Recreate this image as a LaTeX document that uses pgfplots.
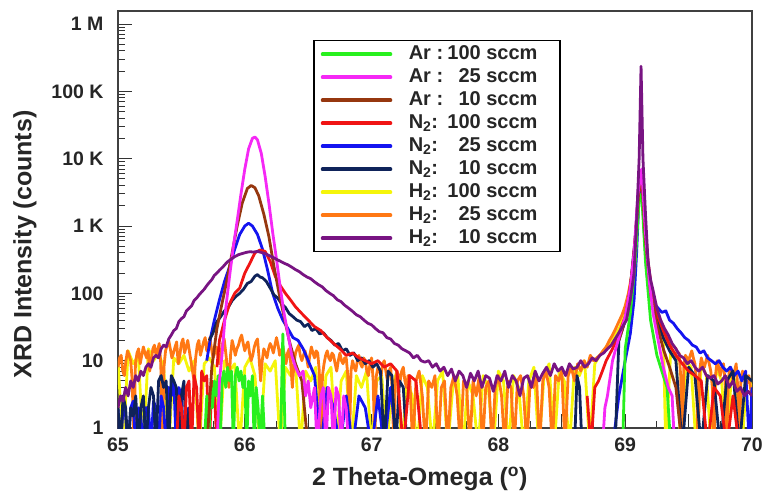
\documentclass[border=0pt]{standalone}
\usepackage{fontspec}
\setmainfont{Liberation Sans}
\usepackage{pgfplots}
\pgfplotsset{compat=1.18}
\definecolor{cGreen}{RGB}{40,240,30}
\definecolor{cMag}{RGB}{245,40,245}
\definecolor{cBrown}{RGB}{150,55,15}
\definecolor{cRed}{RGB}{240,20,20}
\definecolor{cBlue}{RGB}{20,20,240}
\definecolor{cNavy}{RGB}{15,35,90}
\definecolor{cYellow}{RGB}{245,245,10}
\definecolor{cOrange}{RGB}{255,120,20}
\definecolor{cPurple}{RGB}{120,20,130}
\newcommand{\lgt}[2]{\makebox[1.85em][l]{#1}\makebox[1.75em][r]{#2} sccm\hspace*{14pt}}
\begin{document}
\begin{tikzpicture}
\begin{axis}[
  width=634pt, height=417pt, scale only axis,
  xmin=65, xmax=70, ymin=1, ymax=1.56e6, ymode=log,
  xtick={65,65.5,...,70}, xticklabels={65,,66,,67,,68,,69,,70},
  minor x tick num=1,
  ytick={1,10,100,1000,10000,100000,1000000},
  yticklabels={1,10,100,1 K,10 K,100 K,1 M},
  minor ytick={2,3,4,5,6,7,8,9,20,30,40,50,60,70,80,90,200,300,400,500,600,700,800,900,2000,3000,4000,5000,6000,7000,8000,9000,20000,30000,40000,50000,60000,70000,80000,90000,200000,300000,400000,500000,600000,700000,800000,900000},
  tick pos=left,
  tick align=inside,
  major tick length=14pt, minor tick length=7pt,
  every tick/.style={black!80, line width=1pt},
  axis line style={black!75, line width=1.5pt},
  ticklabel style={font=\fontsize{19.5}{22}\selectfont\bfseries, text=black!85},
  xticklabel style={yshift=-6pt},
  yticklabel style={xshift=-11pt},
  xlabel={2 Theta-Omega (\textsuperscript{o})},
  ylabel={XRD Intensity (counts)},
  label style={font=\fontsize{25}{28}\selectfont\bfseries, text=black!85},
  xlabel style={at={(axis description cs:0.476,-0.122)}, anchor=center},
  ylabel style={at={(axis description cs:-0.147,0.44)}, anchor=center},
  legend cell align=left,
  legend style={at={(axis description cs:0.3076,0.9305)}, anchor=north west,
    draw=black, line width=1.5pt, fill=white,
    font=\fontsize{20}{22}\selectfont\bfseries, text=black!85,
    inner xsep=7pt, inner ysep=2pt, row sep=0pt, column sep=15pt,
    nodes={inner sep=1.5pt, text height=15pt, text depth=5pt}},
  legend image code/.code={\draw[line width=3.5pt,line cap=round] (0pt,0pt) -- (68pt,0pt);},
  every axis plot/.append style={line width=2.8pt, line join=round},
]
\addlegendimage{cGreen}\addlegendentry{\lgt{Ar :}{100}}
\addlegendimage{cMag}\addlegendentry{\lgt{Ar :}{25}}
\addlegendimage{cBrown}\addlegendentry{\lgt{Ar :}{10}}
\addlegendimage{cRed}\addlegendentry{\lgt{N\textsubscript{2}:}{100}}
\addlegendimage{cBlue}\addlegendentry{\lgt{N\textsubscript{2}:}{25}}
\addlegendimage{cNavy}\addlegendentry{\lgt{N\textsubscript{2}:}{10}}
\addlegendimage{cYellow}\addlegendentry{\lgt{H\textsubscript{2}:}{100}}
\addlegendimage{cOrange}\addlegendentry{\lgt{H\textsubscript{2}:}{25}}
\addlegendimage{cPurple}\addlegendentry{\lgt{H\textsubscript{2}:}{10}}

% ---------- H2 100 sccm (yellow)
\addplot[cYellow, forget plot] coordinates {
(65.00,10)(65.04,0.5)(65.08,14)(65.12,9)(65.16,12)(65.20,0.5)(65.24,15)(65.28,10)(65.32,13)(65.36,8)
(65.40,0.5)(65.44,11)(65.48,9)(65.52,12)(65.56,7)(65.60,10)(65.64,0.5)(65.68,9)(65.72,11)(65.76,8)
(65.80,0.5)(65.84,10)(65.88,7)(65.92,9)(65.96,0.5)(66.00,8)(66.04,11)(66.08,6)(66.12,0.5)(66.16,9)
(66.20,7)(66.24,10)(66.28,0.5)(66.32,8)(66.36,6)(66.40,9)(66.44,0.5)(66.48,7)(66.52,5)(66.56,8)
(66.60,0.5)(66.64,6)(66.68,8)(66.72,0.5)(66.76,5)(66.80,7)(66.84,0.5)(66.88,6)(66.92,4)(66.96,7)
(67.00,0.5)(67.04,5)(67.08,6)(67.12,0.5)(67.16,4)(67.20,7)(67.24,0.5)(67.28,5)(67.32,3)(67.36,0.5)
(67.40,6)(67.44,4)(67.48,0.5)(67.52,5)(67.56,7)(67.60,0.5)(67.64,4)(67.68,6)(67.72,0.5)(67.76,5)
(67.80,3)(67.84,0.5)(67.88,6)(67.92,4)(67.96,0.5)(68.00,7)(68.04,5)(68.08,0.5)(68.12,6)(68.16,4)
(68.20,0.5)(68.24,5)(68.28,8)(68.32,0.5)(68.36,6)(68.40,9)(68.44,0.5)(68.48,7)(68.52,5)(68.56,0.5)
(68.60,8)(68.64,6)(68.68,10)(68.72,0.5)(68.76,9)(68.80,12)(68.84,15)(68.88,19)(68.92,24)(68.96,32)
(69.00,55)(69.04,130)(69.07,350)(69.10,2500)(69.13,5000)(69.16,700)(69.19,160)(69.22,70)(69.26,40)(69.30,25)
(69.32,0.5)(69.36,15)(69.40,12)(69.44,0.5)(69.48,10)(69.52,8)(69.56,0.5)(69.60,9)(69.64,6)(69.68,0.5)
(69.72,8)(69.76,5)(69.80,0.5)(69.84,7)(69.88,4)(69.92,0.5)(69.96,6)(70.00,4)
};

% ---------- H2 25 sccm (orange)
\addplot[cOrange, forget plot] coordinates {
(65.0000,8)(65.0125,11)(65.0250,12)(65.0375,7)(65.0500,6)(65.0625,10)(65.0750,14)(65.0875,12)(65.1000,10)(65.1125,5)
(65.1250,0.5)(65.1375,9)(65.1500,13)(65.1625,15)(65.1750,9)(65.1875,12)(65.2000,16)(65.2125,13)(65.2250,11)(65.2375,14)
(65.2500,7)(65.2625,10)(65.2750,15)(65.2875,17)(65.3000,12)(65.3125,14)(65.3250,18)(65.3375,9)(65.3500,0.5)(65.3625,8)
(65.3750,14)(65.3875,17)(65.4000,20)(65.4125,15)(65.4250,11)(65.4375,13)(65.4500,16)(65.4625,19)(65.4750,9)(65.4875,12)
(65.5000,18)(65.5125,21)(65.5250,13)(65.5375,16)(65.5500,20)(65.5625,14)(65.5750,10)(65.5875,7)(65.6000,5)(65.6125,11)
(65.6250,17)(65.6375,20)(65.6500,12)(65.6625,15)(65.6750,19)(65.6875,22)(65.7000,14)(65.7125,17)(65.7250,22)(65.7375,15)
(65.7500,11)(65.7625,13)(65.7750,16)(65.7875,12)(65.8000,9)(65.8125,14)(65.8250,18)(65.8375,21)(65.8500,13)(65.8625,8)
(65.8750,4)(65.8875,12)(65.9000,20)(65.9125,16)(65.9250,12)(65.9375,15)(65.9500,17)(65.9625,21)(65.9750,24)(65.9875,18)
(66.0000,14)(66.0125,17)(66.0250,19)(66.0375,13)(66.0500,10)(66.0625,12)(66.0750,16)(66.0875,19)(66.1000,21)(66.1125,11)
(66.1250,5)(66.1375,10)(66.1500,15)(66.1625,13)(66.1750,11)(66.1875,15)(66.2000,18)(66.2125,16)(66.2250,13)(66.2375,17)
(66.2500,22)(66.2625,17)(66.2750,12)(66.2875,14)(66.3000,16)(66.3125,12)(66.3250,9)(66.3375,13)(66.3500,15)(66.3625,9)
(66.3750,4)(66.3875,9)(66.4000,13)(66.4125,15)(66.4250,17)(66.4375,12)(66.4500,10)(66.4625,12)(66.4750,14)(66.4875,11)
(66.5000,8)(66.5125,12)(66.5250,16)(66.5375,13)(66.5500,11)(66.5625,14)(66.5750,13)(66.5875,7)(66.6000,0.5)(66.6125,6)
(66.6250,9)(66.6375,12)(66.6500,14)(66.6625,11)(66.6750,10)(66.6875,13)(66.7000,12)(66.7125,9)(66.7250,7)(66.7375,10)
(66.7500,13)(66.7625,10)(66.7750,9)(66.7875,11)(66.8000,11)(66.8125,6)(66.8250,0.5)(66.8375,7)(66.8500,10)(66.8625,8)
(66.8750,7)(66.8875,10)(66.9000,12)(66.9125,9)(66.9250,8)(66.9375,11)(66.9500,10)(66.9625,7)(66.9750,6)(66.9875,9)
(67.0000,11)(67.0125,5)(67.0250,0.5)(67.0375,6)(67.0500,8)(67.0625,7)(67.0750,6)(67.0875,9)(67.1000,10)(67.1125,7)
(67.1250,5)(67.1375,7)(67.1500,8)(67.1625,4)(67.1750,0.5)(67.1875,5)(67.2000,7)(67.2125,6)(67.2250,5)(67.2375,7)
(67.2500,8)(67.2625,5)(67.2750,4)(67.2875,6)(67.3000,6)
(67.325,0.5)(67.350,5)(67.375,7)(67.400,3)(67.425,0.5)(67.450,5)(67.475,4)
(67.500,6)(67.525,0.5)(67.550,4)(67.575,5)(67.600,0.5)(67.625,4)(67.650,6)(67.675,3)(67.700,0.5)(67.725,5)
(67.750,4)(67.775,0.5)(67.800,5)(67.825,3)(67.850,6)(67.875,0.5)(67.900,4)(67.925,5)(67.950,0.5)(67.975,4)
(68.000,6)(68.025,3)(68.050,0.5)(68.075,5)(68.100,4)(68.125,0.5)(68.150,5)(68.175,6)(68.200,3)(68.225,0.5)
(68.250,5)(68.275,4)(68.300,6)(68.325,0.5)(68.350,5)(68.375,7)(68.400,4)(68.425,0.5)(68.450,6)(68.475,5)
(68.500,7)(68.525,0.5)(68.550,6)(68.575,8)(68.600,5)(68.625,9)(68.650,7)(68.675,10)(68.700,8)(68.725,12)
(68.750,10)(68.775,11)(68.800,12)(68.825,14)(68.850,16)(68.875,20)(68.900,24)(68.925,30)(68.950,38)(68.975,48)
(69.000,65)(69.025,100)(69.050,180)(69.075,400)(69.100,2000)(69.125,6000)(69.150,1200)(69.175,300)(69.200,120)(69.225,70)
(69.250,48)(69.275,38)
(69.3000,30)(69.3125,26)(69.3250,24)(69.3375,22)(69.3500,20)(69.3625,18)(69.3750,17)(69.3875,16)(69.4000,15)(69.4125,13)
(69.4250,13)(69.4375,6)(69.4500,0.5)(69.4625,8)(69.4750,12)(69.4875,11)(69.5000,10)(69.5125,12)(69.5250,14)(69.5375,11)
(69.5500,9)(69.5625,5)(69.5750,0.5)(69.5875,7)(69.6000,11)(69.6125,9)(69.6250,8)(69.6375,10)(69.6500,12)(69.6625,9)
(69.6750,7)(69.6875,4)(69.7000,0.5)(69.7125,6)(69.7250,10)(69.7375,8)(69.7500,6)(69.7625,8)(69.7750,9)(69.7875,5)
(69.8000,0.5)(69.8125,5)(69.8250,8)(69.8375,7)(69.8500,5)(69.8625,7)(69.8750,9)(69.8875,4)(69.9000,0.5)(69.9125,5)
(69.9250,7)(69.9375,6)(69.9500,4)(69.9625,5)(69.9750,6)(69.9875,4)(70.0000,3)
};

% ---------- N2 25 sccm (blue)
\addplot[cBlue, forget plot] coordinates {
(65.00,2)(65.02,0.5)(65.04,2)(65.06,1.5)(65.08,0.5)(65.10,2)(65.12,2.5)(65.14,0.5)(65.16,2)(65.18,1.5)
(65.20,0.5)(65.22,2)(65.24,2)(65.26,0.5)(65.28,2.5)(65.30,2)(65.32,0.5)(65.34,3)(65.36,2)(65.38,0.5)
(65.40,4)(65.42,3)(65.44,5)(65.46,0.5)(65.48,4)(65.50,3)(65.52,0.5)(65.54,2)(65.56,0.5)
};
\addplot[cBlue, forget plot] coordinates {
(65.70,10)(65.73,22)(65.76,40)(65.80,80)(65.84,150)(65.88,250)(65.92,450)(65.96,750)(66.00,1000)(66.03,1100)
(66.06,1000)(66.10,750)(66.14,450)(66.18,220)(66.22,100)(66.26,60)(66.30,40)(66.34,30)(66.38,22)(66.42,20)
(66.46,15)(66.50,10)(66.55,6)(66.60,0.5)(66.65,4)(66.70,2)(66.75,0.5)(66.80,3)(66.85,0.5)(66.90,3)
(66.95,2)(67.00,0.5)(67.05,3)(67.10,0.5)(67.15,4)(67.20,0.5)
};
\addplot[cBlue, forget plot] coordinates {
(68.90,0.5)(68.95,3)(69.00,10)(69.04,25)(69.07,80)(69.09,400)(69.11,3000)(69.13,4000)(69.15,800)(69.17,200)
(69.20,90)(69.23,70)(69.26,60)(69.29,52)(69.32,55)(69.35,40)(69.38,36)(69.41,30)(69.44,26)(69.47,22)
(69.50,20)(69.53,17)(69.56,16)(69.59,13)(69.62,14)(69.65,11)(69.68,10)(69.71,9)(69.74,10)(69.77,8)
(69.80,7)(69.83,8)(69.86,6)(69.89,7)(69.92,5)(69.95,7)(69.98,0.5)(70.00,4)
};

% ---------- N2 10 sccm (navy)
\addplot[cNavy, forget plot] coordinates {
(65.00,2)(65.02,0.5)(65.04,3)(65.06,2)(65.08,0.5)(65.10,2)(65.12,1.5)(65.14,3)(65.16,0.5)(65.18,2)
(65.20,3)(65.22,0.5)(65.24,2)(65.26,4)(65.28,3)(65.30,0.5)(65.32,5)(65.34,6)(65.36,4)(65.38,5)
(65.40,0.5)(65.42,6)(65.44,5)(65.46,4)(65.48,0.5)(65.50,3)(65.52,5)(65.54,0.5)(65.56,2)(65.58,0.5)
};
\addplot[cNavy, forget plot] coordinates {
(65.72,20)(65.75,26)(65.78,38)(65.81,45)(65.84,55)(65.87,62)(65.90,78)(65.93,90)(65.96,100)(65.99,115)
(66.02,140)(66.05,150)(66.08,180)(66.10,190)(66.12,175)(66.14,170)(66.17,150)(66.20,120)(66.23,95)(66.26,85)
(66.29,70)(66.32,62)(66.35,50)(66.38,45)(66.41,40)(66.44,38)(66.47,32)(66.50,35)(66.53,28)(66.56,30)
(66.59,25)(66.62,26)(66.65,22)(66.68,20)(66.71,17)(66.74,18)(66.77,14)(66.80,15)(66.83,12)(66.86,13)
(66.89,10)(66.92,11)(66.95,9)(66.98,10)(67.01,8)(67.04,9)(67.07,7)(67.10,0.5)(67.13,7)(67.16,6)
(67.19,0.5)(67.22,5)(67.25,4)(67.28,0.5)
};
\addplot[cNavy, forget plot] coordinates {(68.60,0.5)(68.62,6)(68.64,4)(68.66,0.5)};
\addplot[cNavy, forget plot] coordinates {
(68.92,0.5)(68.95,20)(69.00,40)(69.04,120)(69.08,700)(69.11,4500)(69.13,5500)(69.16,700)(69.20,110)(69.25,40)
(69.30,22)(69.35,14)(69.40,10)(69.45,0.5)(69.50,8)(69.55,6)(69.60,0.5)(69.65,6)(69.70,5)(69.75,0.5)
(69.80,5)(69.85,7)(69.90,0.5)(69.95,6)(70.00,5)
};

% ---------- N2 100 sccm (red)
\addplot[cRed, forget plot] coordinates {
(65.46,0.5)(65.48,3)(65.50,2)(65.52,0.5)(65.54,4)(65.56,5)(65.58,0.5)(65.60,6)(65.62,4)(65.64,0.5)
(65.66,7)(65.68,5)(65.70,6)(65.72,0.5)(65.74,5)(65.76,4)(65.78,0.5)
};
\addplot[cRed, forget plot] coordinates {
(65.78,8)(65.80,20)(65.84,40)(65.88,70)(65.92,100)(65.96,120)(66.00,200)(66.04,280)(66.08,400)(66.12,440)
(66.16,420)(66.20,300)(66.24,180)(66.28,130)(66.32,100)(66.36,80)(66.40,63)(66.45,50)(66.50,40)(66.55,32)
(66.60,28)(66.65,22)(66.70,18)(66.75,15)(66.80,12)(66.85,13)(66.90,11)(66.95,10)(67.00,9)(67.05,10)
(67.10,8)(67.15,9)(67.20,7)(67.25,0.5)(67.30,6)(67.35,5)(67.40,0.5)
};
\addplot[cRed, forget plot] coordinates {
(68.70,3)(68.73,0.5)(68.76,4)(68.79,5)(68.82,7)(68.85,10)(68.90,15)(68.95,25)(69.00,45)(69.03,90)
(69.06,250)(69.09,1200)(69.12,6500)(69.15,1500)(69.18,300)(69.21,110)(69.25,50)(69.30,28)(69.35,17)(69.40,12)
(69.45,9)(69.50,7)(69.55,6)(69.60,5)(69.65,0.5)(69.70,4)(69.75,3)(69.80,0.5)(69.85,3)(69.90,0.5)
};

% ---------- Ar 100 sccm (green)
\addplot[cGreen, forget plot] coordinates {
(65.68,0.5)(65.70,3)(65.715,0.5)(65.73,4)(65.745,2)(65.76,5)(65.775,3)(65.79,6)(65.805,0.5)(65.82,5)
(65.835,7)(65.85,4)(65.865,8)(65.88,5)(65.895,7)(65.91,0.5)(65.925,6)(65.94,8)(65.955,5)(65.97,7)
(65.985,4)(66.00,6)(66.015,0.5)(66.03,5)(66.045,3)(66.06,6)(66.075,0.5)(66.09,4)(66.105,2)(66.12,0.5)
(66.14,3)(66.16,0.5)
};
\addplot[cGreen, forget plot] coordinates {(66.28,0.5)(66.30,25)(66.32,0.5)};
\addplot[cGreen, forget plot] coordinates {
(68.98,0.5)(69.00,15)(69.04,50)(69.08,300)(69.11,2500)(69.13,3000)(69.16,300)(69.20,40)(69.25,12)(69.30,6)
(69.33,4)(69.36,0.5)
};

% ---------- Ar 10 sccm (brown)
\addplot[cBrown, forget plot] coordinates {
(65.70,0.5)(65.74,8)(65.78,30)(65.82,70)(65.86,160)(65.90,400)(65.94,1000)(65.98,2200)(66.02,3600)(66.05,4000)
(66.08,3700)(66.11,2800)(66.15,1500)(66.19,700)(66.23,250)(66.27,100)(66.31,45)(66.35,20)(66.40,9)(66.45,5)
(66.50,0.5)
};
\addplot[cBrown, forget plot] coordinates {
(68.95,20)(69.00,40)(69.04,110)(69.08,600)(69.11,4000)(69.13,5000)(69.16,600)(69.20,100)(69.25,35)(69.30,15)
(69.35,8)(69.40,4)(69.45,0.5)
};

% ---------- Ar 25 sccm (magenta)
\addplot[cMag, forget plot] coordinates {
(65.78,0.5)(65.80,5)(65.82,12)(65.85,60)(65.88,180)(65.91,500)(65.94,1200)(65.97,3000)(66.00,7000)(66.03,14000)
(66.06,20000)(66.08,21000)(66.10,19000)(66.13,12000)(66.16,5500)(66.19,2200)(66.22,800)(66.25,320)(66.28,120)(66.31,50)
(66.34,25)(66.37,12)(66.40,8)(66.43,6)(66.46,7)(66.48,3)(66.50,5)(66.52,2)(66.55,4)(66.57,0.5)
(66.60,3)(66.62,4)(66.64,0.5)(66.66,4)(66.68,3)(66.70,0.5)(66.72,4)(66.74,3)(66.76,0.5)(66.78,3)
(66.80,2)(66.82,0.5)
};
\addplot[cMag, forget plot] coordinates {
(68.82,0.5)(68.84,2)(68.86,3)(68.90,10)(68.95,22)(69.00,45)(69.04,120)(69.07,400)(69.10,3000)(69.13,7000)
(69.16,800)(69.19,150)(69.22,50)(69.26,20)(69.30,8)(69.34,4)(69.37,3)(69.39,0.5)
};

% ---------- H2 10 sccm (purple)
\addplot[cPurple, forget plot] coordinates {
(65.00,2)(65.02,3)(65.04,2.5)(65.06,4)(65.08,3)(65.10,5)(65.12,4)(65.14,6)(65.16,5)(65.18,7)
(65.20,6)(65.22,8)(65.24,9)(65.26,8)(65.28,11)(65.30,12)(65.32,11)(65.34,15)(65.36,17)(65.38,16)
(65.40,21)(65.42,24)(65.44,28)(65.46,30)(65.48,38)(65.50,42)(65.52,45)(65.54,55)(65.56,60)(65.58,65)
(65.60,78)(65.62,85)(65.64,95)(65.66,105)(65.68,115)(65.70,130)(65.72,145)(65.74,160)(65.76,185)(65.78,200)
(65.80,220)(65.83,250)(65.86,290)(65.89,320)(65.92,350)(65.95,375)(65.98,390)(66.01,405)(66.04,415)(66.07,410)
(66.10,420)(66.13,405)(66.16,390)(66.19,365)(66.22,345)(66.25,320)(66.28,300)(66.31,280)(66.34,265)(66.37,245)
(66.40,225)(66.43,210)(66.46,190)(66.49,175)(66.52,165)(66.55,148)(66.58,135)(66.61,125)(66.64,110)(66.67,100)
(66.70,92)(66.73,80)(66.76,75)(66.79,66)(66.82,60)(66.85,54)(66.88,48)(66.91,45)(66.94,40)(66.97,36)
(67.00,34)(67.03,30)(67.06,27)(67.09,26)(67.12,22)(67.15,21)(67.18,18)(67.21,17)(67.24,15)(67.27,14)
(67.30,13)(67.33,11)(67.36,12)(67.39,10)(67.42,9.5)(67.45,10)(67.48,8)(67.51,9)(67.54,7)(67.57,8)
(67.60,6)(67.63,7.5)(67.66,5)(67.69,7)(67.72,6)(67.75,4)(67.78,6.5)(67.81,5)(67.84,7)(67.87,4)
(67.90,6)(67.93,5.5)(67.96,3.5)(67.99,6)(68.02,5)(68.05,7)(68.08,4)(68.11,6)(68.14,5)(68.17,3)
(68.20,5.5)(68.23,6)(68.26,4)(68.29,7)(68.32,5)(68.35,6.5)(68.38,8)(68.41,6)(68.44,9)(68.47,7)
(68.50,8)(68.53,6)(68.56,9)(68.59,7.5)(68.62,8)(68.65,10)(68.68,8)(68.71,9)(68.74,11)(68.77,10)
(68.80,12)(68.83,13)(68.86,15)(68.89,17)(68.92,21)(68.95,26)(68.98,32)(69.01,40)(69.04,80)(69.07,200)
(69.09,1200)(69.11,10000)(69.125,235000)(69.14,10000)(69.16,1500)(69.18,300)(69.20,160)(69.22,110)(69.25,60)(69.28,40)
(69.31,30)(69.34,24)(69.37,18)(69.40,15)(69.43,12)(69.46,11)(69.49,9)(69.52,10)(69.55,8)(69.58,7)
(69.61,8)(69.64,6)(69.67,5.5)(69.70,6)(69.73,4.5)(69.76,5)(69.79,6)(69.82,4)(69.85,5)(69.88,3.5)
(69.91,4)(69.94,3)(69.97,3.5)(70.00,3)
};
\end{axis}
\path ([xshift=-118pt,yshift=-65pt]current axis.south west) rectangle ([xshift=16pt,yshift=11pt]current axis.north east);
\end{tikzpicture}
\end{document}
